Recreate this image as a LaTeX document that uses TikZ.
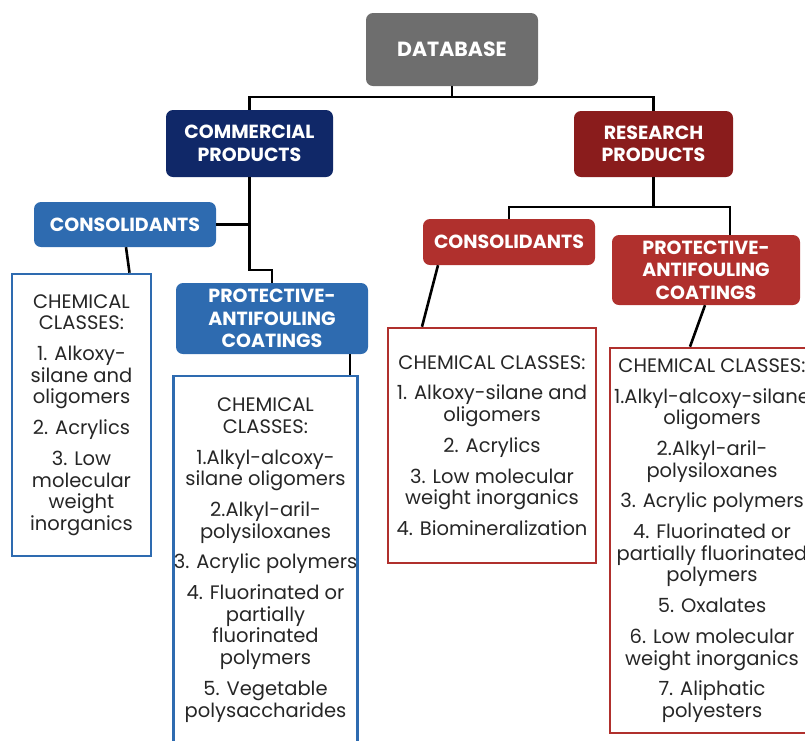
\documentclass[tikz,border=0pt]{standalone}
\usepackage{fontspec}
\setmainfont{Poppins}
\usetikzlibrary{positioning}
\definecolor{dbgray}{HTML}{6E6E6E}
\definecolor{comblue}{HTML}{102868}
\definecolor{resred}{HTML}{8A1C1C}
\definecolor{midblue}{HTML}{2E6BB0}
\definecolor{midred}{HTML}{B0302D}
\definecolor{txtgray}{HTML}{262626}

\begin{document}
\begin{tikzpicture}[
    x=1pt,y=-1pt,
    head/.style={rounded corners=7pt,text=white,align=center,inner sep=0pt,
      font=\bfseries\fontsize{19}{22.5}\selectfont},
    chem/.style={draw,line width=2.6pt,fill=white,text=txtgray,align=center,inner sep=0pt,
      font=\fontsize{19.5}{21.7}\selectfont},
    link/.style={line width=2.6pt,black}
]
\useasboundingbox (0,0) rectangle (805,740);
\begin{scope}
\clip (0,0) rectangle (805,740);
% top level
\node[head,fill=dbgray,minimum width=172pt,minimum height=73pt,font=\bfseries\fontsize{20.5}{24}\selectfont] (db) at (452,49.5) {DATABASE};
\node[head,fill=comblue,minimum width=167pt,minimum height=67pt] (com) at (249.5,143.5) {COMMERCIAL\\PRODUCTS};
\node[head,fill=resred,minimum width=159pt,minimum height=66pt] (res) at (653.5,144) {RESEARCH\\PRODUCTS};
% commercial branch
\node[head,fill=midblue,minimum width=182pt,minimum height=45pt] (ccons) at (125,224.5) {CONSOLIDANTS};
\node[head,fill=midblue,minimum width=192pt,minimum height=71pt] (cprot) at (272,318.5) {PROTECTIVE-\\ANTIFOULING\\COATINGS};
\node[chem,draw=midblue,minimum width=139pt,minimum height=282pt] (cchem1) at (81.5,415) {%
  CHEMICAL\\CLASSES:\\[9pt]1. Alkoxy-\\silane and\\oligomers\\[9pt]2. Acrylics\\[9pt]3. Low\\molecular\\weight\\inorganics};
\node[chem,draw=midblue,minimum width=183pt,minimum height=368pt] (cchem2) at (265.5,560) {%
  CHEMICAL\\CLASSES:\\[9pt]1.Alkyl-alcoxy-\\silane oligomers\\[9pt]2.Alkyl-aril-\\polysiloxanes\\[9pt]3. Acrylic polymers\\[9pt]4. Fluorinated or\\partially\\fluorinated\\polymers\\[9pt]5. Vegetable\\polysaccharides};
% research branch
\node[head,fill=midred,minimum width=172pt,minimum height=46pt] (rcons) at (509,242) {CONSOLIDANTS};
\node[head,fill=midred,minimum width=188pt,minimum height=70pt] (rprot) at (706,270) {PROTECTIVE-\\ANTIFOULING\\COATINGS};
\node[chem,draw=midred,minimum width=208pt,minimum height=235pt] (rchem1) at (492,445.5) {%
  CHEMICAL CLASSES:\\[9pt]1. Alkoxy-silane and\\oligomers\\[9pt]2. Acrylics\\[9pt]3. Low molecular\\weight inorganics\\[9pt]4. Biomineralization};
\node[chem,draw=midred,minimum width=204pt,minimum height=385pt] (rchem2) at (712,540.5) {%
  CHEMICAL CLASSES:\\[9pt]1.Alkyl-alcoxy-silane\\oligomers\\[9pt]2.Alkyl-aril-\\polysiloxanes\\[9pt]3. Acrylic polymers\\[9pt]4. Fluorinated or\\partially fluorinated\\polymers\\[9pt]5. Oxalates\\[9pt]6. Low molecular\\weight inorganics\\[9pt]7. Aliphatic\\polyesters};
% connectors
\coordinate (topbus) at (452,97);
\draw[link] (db.south) -- (topbus);
\draw[link] (com.north) |- (topbus) -| (res.north);
\coordinate (cbend) at (249.5,270);
\draw[link] (com.south) -- (cbend) -| (cprot.north);
\draw[link] (ccons.east) -- (ccons.east -| com.south);
\draw[link] ([xshift=1pt]ccons.south) -- ([xshift=48pt]cchem1.north);
\draw[link] ([xshift=78pt]cprot.south) -- ([xshift=78pt]cprot.south |- cchem2.north);
\coordinate (rbus) at (653.5,207);
\draw[link] (res.south) -- (rbus);
\draw[link] (rcons.north) |- (rbus) -| ([xshift=24pt]rprot.north);
\draw[link] ([xshift=-71pt]rcons.south) -- ([xshift=-70pt]rchem1.north);
\draw[link] ([xshift=-1pt]rprot.south) -- ([xshift=-22pt]rchem2.north);
\end{scope}
\end{tikzpicture}
\end{document}
